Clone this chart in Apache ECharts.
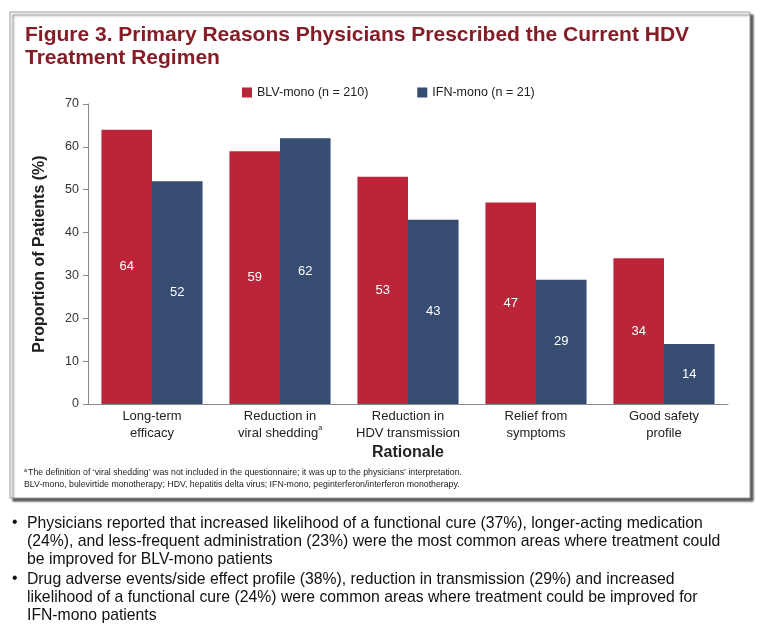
<!DOCTYPE html>
<html>
<head>
<meta charset="utf-8">
<script src="https://cdn.jsdelivr.net/npm/echarts@6/dist/echarts.min.js"></script>
<style>
  html, body { margin: 0; padding: 0; background: #fff; }
  #main { width: 768px; height: 624px; }
</style>
</head>
<body>
<div id="main"></div>
<script>
// data
const categories = [
  "Long-term\nefficacy",
  "Reduction in\nviral shedding{sup|a}",
  "Reduction in\nHDV transmission",
  "Relief from\nsymptoms",
  "Good safety\nprofile"
]
const blvMono = [64, 59, 53, 47, 34]
const ifnMono = [52, 62, 43, 29, 14]
const seriesNames = ["BLV-mono (n = 210)", "IFN-mono (n = 21)"]
const yTicks = [0, 10, 20, 30, 40, 50, 60, 70]

const bullet1 = [
  "Physicians reported that increased likelihood of a functional cure (37%), longer-acting medication",
  "(24%), and less-frequent administration (23%) were the most common areas where treatment could",
  "be improved for BLV-mono patients"
]
const bullet2 = [
  "Drug adverse events/side effect profile (38%), reduction in transmission (29%) and increased",
  "likelihood of a functional cure (24%) were common areas where treatment could be improved for",
  "IFN-mono patients"
]

const font = "'Liberation Sans', Arial, sans-serif"
const red = "#BE2439"
const blue = "#364C71"

// chart
const chartContainer = document.getElementById("main")
const myChart = echarts.init(chartContainer)

const options = {
  animation: false,
  textStyle: { fontFamily: font },
  color: [red, blue],
  graphic: [
    {
      type: "rect", z: -10,
      shape: { x: 10, y: 12, width: 740, height: 486 },
      style: {
        fill: "#fff", stroke: "#9a9a9a", lineWidth: 1,
        shadowColor: "rgba(0,0,0,0.65)", shadowOffsetX: 3, shadowOffsetY: 3, shadowBlur: 2
      }
    },
    {
      type: "text", left: 25, top: 24,
      style: {
        text: "Figure 3. Primary Reasons Physicians Prescribed the Current HDV\nTreatment Regimen",
        font: "bold 21px " + font, fill: "#861C26", lineHeight: 23
      }
    },
    {
      type: "text", left: 24, top: 467,
      style: {
        rich: {
          s: { fontSize: 5.5, verticalAlign: "top", fill: "#222", padding: [0, 1, 4, 0] },
          t: { fontSize: 8.75, fill: "#222", fontFamily: font }
        },
        text: "{s|a}{t|The definition of \u2018viral shedding\u2019 was not included in the questionnaire; it was up to the physicians\u2019 interpretation.}\n{t|BLV-mono, bulevirtide monotherapy; HDV, hepatitis delta virus; IFN-mono, peginterferon/interferon monotherapy.}",
        lineHeight: 12, fill: "#222"
      }
    },
    {
      type: "group", left: 12, top: 515,
      children: [
        { type: "text", x: 0, y: 0, style: { text: "\u2022", font: "15.75px " + font, fill: "#111" } },
        { type: "text", x: 15, y: 0, style: { text: bullet1.join("\n"), font: "15.75px " + font, fill: "#111", lineHeight: 18 } },
        { type: "text", x: 0, y: 56, style: { text: "\u2022", font: "15.75px " + font, fill: "#111" } },
        { type: "text", x: 15, y: 56, style: { text: bullet2.join("\n"), font: "15.75px " + font, fill: "#111", lineHeight: 18 } }
      ]
    }
  ],
  legend: {
    top: 81, left: 237,
    itemWidth: 10, itemHeight: 10, itemGap: 49,
    icon: "rect",
    textStyle: { fontSize: 12.5, color: "#222", fontFamily: font },
    data: seriesNames
  },
  grid: { left: 88, right: 40, top: 104, bottom: 220 },
  xAxis: {
    type: "category",
    data: categories,
    name: "Rationale",
    nameLocation: "middle",
    nameGap: 41,
    nameTextStyle: { fontSize: 16, fontWeight: "bold", color: "#222", fontFamily: font },
    axisLine: { lineStyle: { color: "#8a8a8a" } },
    axisTick: { show: false },
    axisLabel: {
      fontSize: 13, color: "#222", lineHeight: 17, margin: 4, interval: 0,
      rich: { sup: { fontSize: 7, verticalAlign: "top", color: "#222", padding: [0, 0, 6, 0] } }
    }
  },
  yAxis: {
    type: "value",
    min: yTicks[0], max: yTicks[yTicks.length - 1], interval: 10,
    name: "Proportion of Patients (%)",
    nameLocation: "middle",
    nameGap: 40,
    nameTextStyle: { fontSize: 16, fontWeight: "bold", color: "#222", fontFamily: font },
    axisLine: { show: true, lineStyle: { color: "#8a8a8a" } },
    axisTick: { show: true, length: 5, lineStyle: { color: "#8a8a8a" } },
    splitLine: { show: false },
    axisLabel: { fontSize: 12.5, color: "#333", margin: 9 }
  },
  series: [
    {
      name: seriesNames[0], type: "bar", data: blvMono,
      barGap: 0, barCategoryGap: "21%",
      label: { show: true, position: "inside", color: "#fff", fontSize: 13 }
    },
    {
      name: seriesNames[1], type: "bar", data: ifnMono,
      barGap: 0, barCategoryGap: "21%",
      label: { show: true, position: "inside", color: "#fff", fontSize: 13 }
    }
  ]
}

myChart.setOption(options)
window.onresize = () => myChart.resize()
</script>
</body>
</html>
